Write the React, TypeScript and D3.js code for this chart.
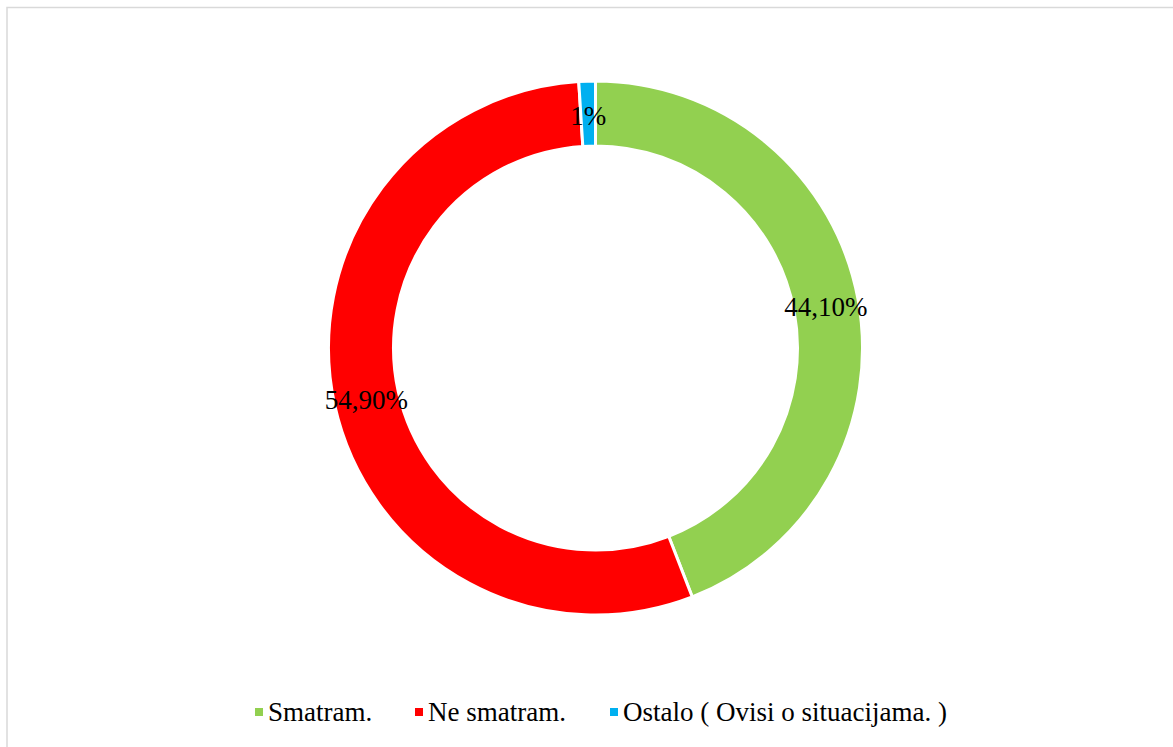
import React from "react";
import * as d3 from "d3";

const categories = ["Smatram.", "Ne smatram.", "Ostalo ( Ovisi o situacijama. )"];
const values = [44.1, 54.9, 1];
const labels = ["44,10%", "54,90%", "1%"];
const colors = ["#92d050", "#ff0000", "#00b0f0"];

const W = 1173;
const H = 747;
const cx = 595.5;
const cy = 348;
const outerR = 267;
const innerR = 202;

export default function App() {
  const pie = d3
    .pie<number>()
    .sort(null)
    .value((d) => d)
    .startAngle(0)
    .endAngle(2 * Math.PI);
  const arcs = pie(values);
  const arc = d3.arc<d3.PieArcDatum<number>>().innerRadius(innerR).outerRadius(outerR);
  const mid = (innerR + outerR) / 2;
  const labelArc = d3.arc<d3.PieArcDatum<number>>().innerRadius(mid).outerRadius(mid);

  const legendX = [255, 415, 610];
  const legendY = 712;
  const font = '"Liberation Serif"';

  return (
    <svg width={W} height={H} style={{ position: "absolute", left: 0, top: 0 }}>
      <rect x={7} y={7.5} width={1300} height={900} fill="#fff" stroke="#d9d9d9" strokeWidth={1.5} />
      {arcs.map((a, i) => (
        <path
          key={"p" + i}
          transform={`translate(${cx},${cy})`}
          d={arc(a) || ""}
          fill={colors[i]}
          stroke="#fff"
          strokeWidth={3}
        />
      ))}
      {arcs.map((a, i) => {
        const [x, y] = labelArc.centroid(a);
        return (
          <text
            key={"t" + i}
            x={cx + x}
            y={cy + y + 11}
            textAnchor="middle"
            style={{ fontFamily: font, fontSize: 27 }}
            fill="#000"
          >
            {labels[i]}
          </text>
        );
      })}
      {categories.map((c, i) => (
        <rect key={"r" + i} x={legendX[i]} y={legendY - 4} width={8} height={8} fill={colors[i]} />
      ))}
      {categories.map((c, i) => (
        <text
          key={"l" + i}
          x={legendX[i] + 13}
          y={legendY + 9}
          style={{ fontFamily: font, fontSize: 27 }}
          fill="#000"
        >
          {c}
        </text>
      ))}
    </svg>
  );
}
